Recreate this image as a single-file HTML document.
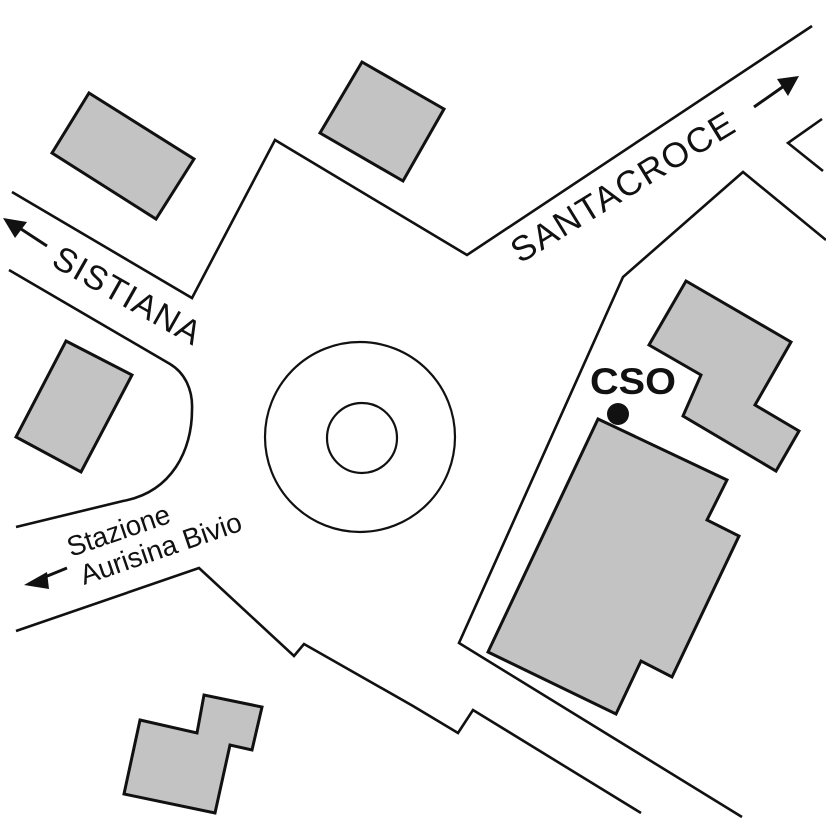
<!DOCTYPE html>
<html>
<head>
<meta charset="utf-8">
<style>
  html, body { margin: 0; padding: 0; background: #fff; }
  svg { display: block; }
  text { font-family: "Liberation Sans", Arial, sans-serif; fill: #111; }
</style>
</head>
<body>
<svg width="826" height="826" viewBox="0 0 826 826" xmlns="http://www.w3.org/2000/svg">
  <rect x="0" y="0" width="826" height="826" fill="#fff"/>

  <!-- Roads -->
  <g fill="none" stroke="#111" stroke-width="2.6" stroke-linejoin="miter">
    <polyline points="12,192 192,298 275,140 467,255 812,26"/>
    <path d="M 9 270 L 170 364 C 185 373, 193 390, 192 410 C 192 450, 172 492, 123 501 L 16 527"/>
    <polyline points="16,631 199,568 294,656 304,644 413,706 458,733 473,710 641,813"/>
    <polyline points="826,240 743,172 623,277 459,643 742,817"/>
    <polyline points="822,119 788,143 823,171"/>
  </g>

  <!-- Roundabout -->
  <g fill="none" stroke="#111" stroke-width="2.2">
    <circle cx="360" cy="437" r="95"/>
    <circle cx="362" cy="438" r="35"/>
  </g>

  <!-- Buildings -->
  <g fill="#c3c3c3" stroke="#111" stroke-width="3" stroke-linejoin="miter">
    <polygon points="89,93 194,159 156,219 52,153"/>
    <polygon points="362,62 444,109 403,181 320,133"/>
    <polygon points="66,341 132,375 81,472 16,437"/>
    <polygon points="686,281 791,342 755,405 799,431 776,471 683,416 701,375 649,345"/>
    <polygon points="598,419 727,480 707,520 739,536 672,677 641,661 616,714 488,652"/>
    <polygon points="140,720 197,733 204,695 262,707 252,750 230,745 215,813 124,794"/>
  </g>

  <!-- CSO marker -->
  <circle cx="618" cy="414" r="11" fill="#111"/>
  <text x="590" y="394" font-size="37" font-weight="bold" textLength="86" lengthAdjust="spacingAndGlyphs">CSO</text>

  <!-- Arrows -->
  <g stroke="#111" stroke-width="3" fill="none">
    <line x1="47" y1="246" x2="18" y2="227"/>
    <line x1="754" y1="107" x2="784" y2="86"/>
    <line x1="67" y1="568" x2="40" y2="579"/>
  </g>
  <g fill="#111" stroke="none">
    <polygon points="3,218 27,222 15,238"/>
    <polygon points="799,76 777,79 788,96"/>
    <polygon points="24,585 47,572 49,589"/>
  </g>

  <!-- Street labels -->
  <text transform="translate(50,265) rotate(29.5)" font-size="34" textLength="164" lengthAdjust="spacing">SISTIANA</text>
  <text transform="translate(520,264) rotate(-31.5)" font-size="35" textLength="255" lengthAdjust="spacing">SANTACROCE</text>
  <text transform="translate(71,557) rotate(-19)" font-size="28" textLength="107" lengthAdjust="spacingAndGlyphs">Stazione</text>
  <text transform="translate(84,585) rotate(-19)" font-size="28" textLength="169" lengthAdjust="spacingAndGlyphs">Aurisina Bivio</text>
</svg>
</body>
</html>
